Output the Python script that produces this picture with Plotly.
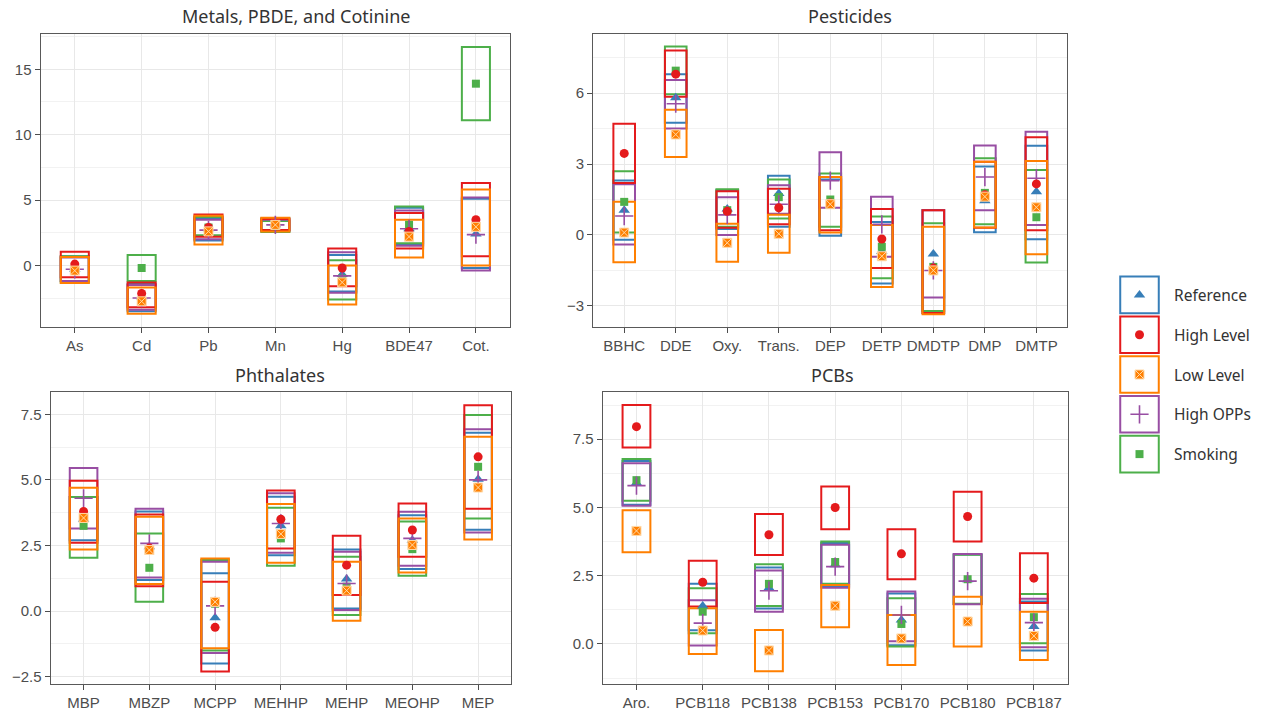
import plotly.graph_objects as go

W, H = 1262, 717

groups = ["Reference", "High Level", "Low Level", "High OPPs", "Smoking"]
colors = ["#377EB8", "#E41A1C", "#FF7F00", "#984EA3", "#4DAF4A"]

# ---------------- Metals, PBDE, and Cotinine ----------------
metals_cats = ["As", "Cd", "Pb", "Mn", "Hg", "BDE47", "Cot."]
metals_lo = [
    [-1.2, -3.5, 1.9, 2.65, -2.0, 1.6, -0.2],
    [-0.9, -3.2, 2.2, 2.7, -1.6, 1.3, 0.7],
    [-1.35, -3.7, 1.6, 2.6, -3.0, 0.6, 0.0],
    [-1.2, -3.4, 2.0, 2.65, -2.1, 1.5, -0.4],
    [-1.3, -1.2, 2.3, 2.55, -2.6, 1.7, 11.1],
]
metals_hi = [
    [0.7, -1.4, 3.6, 3.6, 0.8, 4.4, 5.1],
    [1.05, -1.3, 3.9, 3.55, 1.3, 4.0, 6.3],
    [0.65, -1.7, 3.8, 3.65, 0.0, 3.5, 5.8],
    [0.6, -1.5, 3.5, 3.5, 1.0, 4.2, 5.2],
    [0.7, 0.8, 3.7, 3.4, 0.4, 4.5, 16.7],
]
metals_mean = [
    [-0.3, -2.4, 2.8, 3.1, -0.7, 2.8, 2.4],
    [0.1, -2.15, 2.9, 3.15, -0.2, 2.6, 3.5],
    [-0.4, -2.75, 2.6, 3.1, -1.3, 2.2, 2.95],
    [-0.3, -2.5, 2.7, 3.1, -0.8, 2.8, 2.35],
    [-0.3, -0.2, 2.9, 3.0, -1.0, 3.1, 13.9],
]

# ---------------- Pesticides ----------------
pest_cats = ["BBHC", "DDE", "Oxy.", "Trans.", "DEP", "DETP", "DMDTP", "DMP", "DMTP"]
pest_lo = [
    [-0.2, 4.75, 0.25, 0.35, -0.03, -2.05, -3.3, 0.12, -0.18],
    [2.2, 5.85, 0.3, 0.45, 0.2, -1.4, -3.3, 0.3, 0.2],
    [-1.15, 3.3, -1.13, -0.75, 0.1, -2.2, -3.35, 0.32, -0.82],
    [-0.4, 4.5, 0.0, 0.9, 1.15, -0.92, -2.65, 1.05, 0.42],
    [0.1, 5.95, 0.35, 0.7, 0.35, -1.83, -3.22, 0.45, -1.16],
]
pest_hi = [
    [2.3, 6.8, 1.9, 2.5, 2.35, 0.55, 1.06, 2.9, 3.77],
    [4.7, 7.8, 1.85, 1.95, 2.45, 1.1, 1.05, 3.1, 4.13],
    [1.4, 5.3, 0.47, 0.85, 2.45, 0.42, 0.35, 3.1, 3.13],
    [2.15, 6.55, 1.6, 2.1, 3.5, 1.62, 1.05, 3.78, 4.37],
    [2.7, 7.97, 1.93, 2.35, 2.6, 0.78, 0.5, 3.24, 2.75],
]
pest_mean = [
    [1.05, 5.8, 1.1, 1.75, 1.2, -0.7, -0.8, 1.45, 1.83],
    [3.45, 6.8, 1.0, 1.15, 1.35, -0.17, -1.4, 1.7, 2.16],
    [0.1, 4.25, -0.33, 0.05, 1.3, -0.9, -1.5, 1.62, 1.17],
    [0.8, 5.55, 0.85, 1.3, 2.3, 0.45, -1.5, 2.45, 2.4],
    [1.4, 6.95, 1.05, 1.6, 1.5, -0.5, -1.35, 1.78, 0.75],
]

# ---------------- Phthalates ----------------
phth_cats = ["MBP", "MBZP", "MCPP", "MEHHP", "MEHP", "MEOHP", "MEP"]
phth_lo = [
    [2.7, 1.18, -2.0, 2.13, 0.1, 1.6, 3.1],
    [2.6, 0.95, -2.3, 2.39, 0.61, 2.07, 3.9],
    [2.35, 1.03, -1.42, 1.84, -0.37, 1.47, 2.73],
    [3.15, 1.28, -1.6, 2.22, 0.04, 1.73, 3.0],
    [2.03, 0.36, -1.5, 1.73, -0.15, 1.35, 3.53],
]
phth_hi = [
    [4.35, 3.8, 1.44, 4.36, 2.35, 3.65, 6.8],
    [4.97, 3.68, 1.12, 4.6, 2.87, 4.1, 7.85],
    [4.7, 3.6, 2.0, 4.08, 1.88, 3.53, 6.65],
    [5.45, 3.9, 1.88, 4.49, 2.26, 3.79, 6.93],
    [4.35, 2.96, 1.95, 3.94, 2.07, 3.41, 7.47],
]
phth_mean = [
    [3.5, 2.45, -0.25, 3.25, 1.22, 2.7, 5.03],
    [3.8, 2.4, -0.62, 3.5, 1.75, 3.09, 5.88],
    [3.55, 2.33, 0.35, 2.94, 0.78, 2.52, 4.71],
    [4.3, 2.58, 0.2, 3.34, 1.05, 2.77, 5.0],
    [3.25, 1.65, 0.28, 2.77, 0.93, 2.36, 5.5],
]

# ---------------- PCBs ----------------
pcb_cats = ["Aro.", "PCB118", "PCB138", "PCB153", "PCB170", "PCB180", "PCB187"]
pcb_lo = [
    [5.1, 0.5, 1.3, 2.1, -0.05, 1.46, -0.24],
    [7.2, 1.37, 3.26, 4.2, 2.37, 3.75, 1.5],
    [3.36, -0.37, -1.0, 0.61, -0.77, -0.1, -0.59],
    [5.06, -0.06, 1.18, 2.06, 0.1, 1.45, -0.12],
    [5.25, 0.39, 1.39, 2.2, -0.1, 1.47, 0.02],
]
pcb_hi = [
    [6.7, 2.2, 2.8, 3.7, 1.85, 3.28, 1.55],
    [8.75, 3.05, 4.76, 5.77, 4.2, 5.58, 3.32],
    [4.9, 1.31, 0.51, 2.16, 1.06, 1.73, 1.18],
    [6.62, 1.6, 2.69, 3.63, 1.92, 3.29, 1.65],
    [6.78, 2.04, 2.92, 3.75, 1.67, 3.27, 1.83],
]
pcb_mean = [
    [5.9, 1.39, 2.05, 2.9, 0.88, 2.35, 0.64],
    [7.96, 2.26, 4.0, 5.0, 3.3, 4.67, 2.41],
    [4.14, 0.49, -0.24, 1.4, 0.2, 0.82, 0.29],
    [5.8, 0.76, 1.95, 2.83, 1.06, 2.3, 0.78],
    [6.0, 1.18, 2.2, 3.0, 0.73, 2.37, 0.98],
]

panel_titles = ["Metals, PBDE, and Cotinine", "Pesticides", "Phthalates", "PCBs"]

# ---------------- styling ----------------
def marker_style(g):
    base = dict(size=9, color=colors[g], line=dict(width=0, color=colors[g]))
    if g == 0:
        base.update(symbol="triangle-up", size=10)
    elif g == 1:
        base.update(symbol="circle", size=9)
    elif g == 2:
        base.update(symbol="square-x", size=9, line=dict(width=1, color="#FFD9A8"))
    elif g == 3:
        base.update(symbol="cross-thin", size=13, line=dict(width=1.6, color=colors[g]))
    else:
        base.update(symbol="square", size=8)
    return base

draw_order = [0, 4, 3, 1, 2]
BOX_W = 0.42

panels = [
    (metals_cats, metals_lo, metals_hi, metals_mean),
    (pest_cats, pest_lo, pest_hi, pest_mean),
    (phth_cats, phth_lo, phth_hi, phth_mean),
    (pcb_cats, pcb_lo, pcb_hi, pcb_mean),
]

# pixel geometry of each panel (left, right, top, bottom)
geom = [
    (40.7, 510.0, 34.0, 326.7),
    (593.3, 1067.3, 34.0, 326.7),
    (50.7, 511.0, 392.3, 684.0),
    (602.7, 1068.3, 392.3, 684.0),
]
yranges = [[-4.69, 17.7], [-3.88, 8.5], [-2.78, 8.34], [-1.47, 9.22]]
xranges = [[-0.51, 6.51], [-0.6, 8.6], [-0.5, 6.5], [-0.51, 6.52]]
ytickvals = [[0, 5, 10, 15], [-3, 0, 3, 6], [-2.5, 0, 2.5, 5, 7.5], [0, 2.5, 5, 7.5]]
yminor = [2.5, 1.5, 1.25, 1.25]
yfmt = ["d", "d", ".1f", ".1f"]
title_pos = [(296, 16), (850, 16), (280, 375), (832, 375)]

fig = go.Figure()

for p, (cats, lo, hi, mean) in enumerate(panels):
    ax = "" if p == 0 else str(p + 1)
    for g in draw_order:
        heights = [h - l for h, l in zip(hi[g], lo[g])]
        fig.add_trace(go.Bar(
            x=cats, y=heights, base=lo[g], width=BOX_W,
            marker=dict(color="rgba(0,0,0,0)", line=dict(color=colors[g], width=2)),
            xaxis="x" + ax, yaxis="y" + ax, showlegend=False, name=groups[g],
        ))
    for g in draw_order:
        fig.add_trace(go.Scatter(
            x=cats, y=mean[g], mode="markers", marker=marker_style(g),
            xaxis="x" + ax, yaxis="y" + ax, showlegend=False, name=groups[g],
            cliponaxis=False,
        ))

layout = dict(
    width=W, height=H, barmode="overlay",
    margin=dict(l=0, r=0, t=0, b=0),
    paper_bgcolor="white", plot_bgcolor="white",
    showlegend=False,
)

tickfont = dict(family="Liberation Sans, Arial, sans-serif", size=15, color="#4D4D4D")
annotations = []
for p in range(4):
    ax = "" if p == 0 else str(p + 1)
    l, r, t, b = geom[p]
    layout["xaxis" + ax] = dict(
        domain=[l / W, r / W], anchor="y" + ax, type="category",
        range=xranges[p], showline=True, mirror=True, linecolor="#595959", linewidth=1.3,
        ticks="outside", ticklen=5, tickwidth=1.3, tickcolor="#4D4D4D",
        showgrid=True, gridcolor="#E8E8E8", gridwidth=1.3, zeroline=False,
        tickfont=tickfont, fixedrange=True,
    )
    layout["yaxis" + ax] = dict(
        domain=[1 - b / H, 1 - t / H], anchor="x" + ax,
        range=yranges[p], showline=True, mirror=True, linecolor="#595959", linewidth=1.3,
        ticks="outside", ticklen=5, tickwidth=1.3, tickcolor="#4D4D4D",
        tickvals=ytickvals[p], tickformat=yfmt[p],
        showgrid=True, gridcolor="#E8E8E8", gridwidth=1.3, zeroline=False,
        minor=dict(dtick=yminor[p], tick0=0, showgrid=True, gridcolor="#F2F2F2", gridwidth=1, ticks=""),
        tickfont=tickfont, fixedrange=True,
    )
    tx, ty = title_pos[p]
    annotations.append(dict(
        text=panel_titles[p], x=tx / W, y=1 - ty / H, xref="paper", yref="paper",
        xanchor="center", yanchor="middle", showarrow=False,
        font=dict(family="Noto Sans, Open Sans, sans-serif", size=18, color="#333333"),
    ))

# ---------------- custom legend (boxes with markers) ----------------
leg_l, leg_r, leg_t, leg_b = 1119.0, 1160.0, 275.0, 474.0
layout["xaxis5"] = dict(domain=[leg_l / W, leg_r / W], anchor="y5", range=[0, 1],
                        visible=False, fixedrange=True)
layout["yaxis5"] = dict(domain=[1 - leg_b / H, 1 - leg_t / H], anchor="x5", range=[5, 0],
                        visible=False, fixedrange=True)
for g in range(5):
    fig.add_trace(go.Bar(
        x=[0.5], y=[0.92], base=[g + 0.04], width=[0.94],
        marker=dict(color="rgba(0,0,0,0)", line=dict(color=colors[g], width=2)),
        xaxis="x5", yaxis="y5", showlegend=False, name=groups[g],
    ))
    fig.add_trace(go.Scatter(
        x=[0.5], y=[g + 0.5], mode="markers", marker=marker_style(g),
        xaxis="x5", yaxis="y5", showlegend=False, name=groups[g],
    ))
    annotations.append(dict(
        text=groups[g], x=1172 / W, y=g + 0.5, xref="paper", yref="y5",
        xanchor="left", yanchor="middle", showarrow=False,
        font=dict(family="Noto Sans, Open Sans, sans-serif", size=15.5, color="#333333"),
    ))

layout["annotations"] = annotations
fig.update_layout(**layout)
fig.write_html(
    "out.html",
    config={"displayModeBar": False},
    post_script="document.body.style.margin='0px';document.body.style.overflow='hidden';",
)
